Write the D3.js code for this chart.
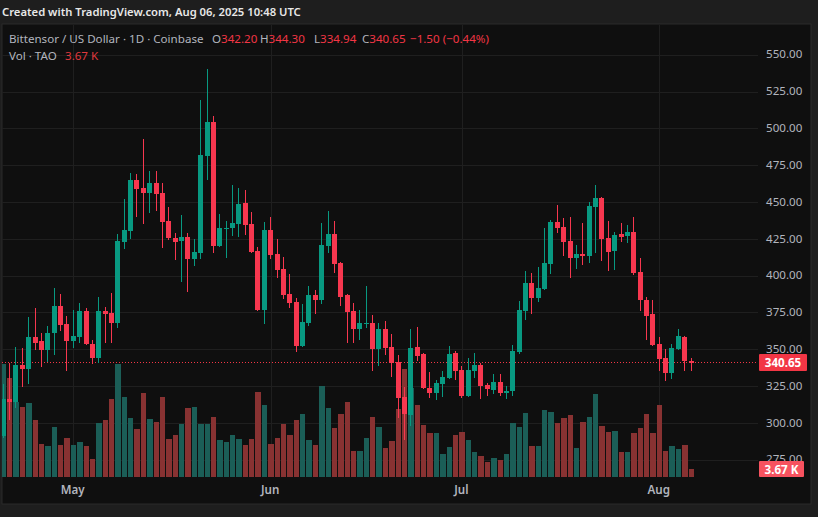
<!DOCTYPE html>
<html>
<head>
<meta charset="utf-8">
<script src="https://cdn.jsdelivr.net/npm/d3@7"></script>
<style>
html, body { margin: 0; padding: 0; background: #1e1e1e; }
svg { display: block; }
text { font-family: "Noto Sans", sans-serif; }
</style>
</head>
<body>
<svg id="area" width="818" height="517"></svg>
<script>
const open = [291.1,316.0,314.1,339.3,336.6,358.3,355.6,349.5,361.0,379.3,367.1,355.6,358.3,375.9,353.5,344.0,375.9,374.6,367.8,422.8,430.2,464.9,459.4,456.1,462.8,456.1,437.0,425.5,423.5,426.2,411.2,415.3,481.2,504.3,420.1,431.6,432.3,435.0,449.3,435.0,416.7,376.6,430.9,414.6,404.4,387.5,382.0,352.2,367.8,386.8,383.4,420.1,428.2,408.5,386.8,375.9,363.7,367.1,367.8,350.1,363.7,351.5,341.3,317.5,305.3,351.5,346.7,323.6,320.3,326.4,330.4,347.4,335.9,318.2,335.2,339.3,325.7,322.3,327.7,320.3,321.6,348.1,375.9,394.9,384.8,390.9,407.8,436.4,433.0,423.5,411.9,414.6,413.3,446.5,452.7,425.5,416.7,428.2,426.9,429.6,402.4,383.4,373.9,353.5,344.0,333.8,350.1,358.3,342.20];
const high = [326.4,340.8,351.5,350.8,371.9,378.0,361.0,365.7,391.5,387.5,372.5,376.6,381.4,378.0,356.2,385.4,378.6,388.2,428.2,452.0,469.6,469.0,492.7,471.0,471.0,462.8,446.5,428.9,441.1,428.9,424.8,519.2,540.2,508.3,441.8,437.0,461.5,459.4,458.1,443.2,419.4,436.4,439.8,424.8,412.6,401.1,384.8,380.7,392.9,390.2,435.7,443.8,437.0,409.2,387.5,381.4,376.6,392.9,373.2,367.8,369.1,360.3,346.1,324.3,363.7,365.1,347.4,334.5,329.1,335.2,352.2,348.8,338.6,344.0,347.4,340.6,327.0,333.2,333.2,325.0,352.9,382.7,403.1,401.7,405.8,432.3,437.7,447.9,439.1,439.8,420.7,435.7,449.9,461.5,453.4,437.0,429.6,435.7,434.3,439.8,411.9,385.4,383.4,358.3,350.1,353.5,363.7,359.0,344.30];
const low = [289.7,301.9,310.1,324.3,326.4,349.5,337.9,341.3,346.1,362.4,335.2,350.8,354.2,352.8,339.9,340.6,354.2,354.2,364.4,418.0,424.8,439.8,435.0,442.5,443.8,418.7,424.1,410.6,395.6,388.8,406.5,411.2,464.9,415.3,419.4,411.9,426.9,426.2,427.5,415.3,375.9,367.1,411.2,398.3,384.1,378.0,348.1,351.5,365.7,373.9,380.7,415.3,401.7,379.3,354.2,354.2,356.2,364.4,335.2,338.6,346.1,331.1,303.3,288.3,297.8,342.0,323.0,316.9,315.5,317.5,329.8,329.1,316.9,317.5,330.4,316.2,318.2,319.6,318.2,316.2,318.2,346.7,369.8,373.9,382.0,390.2,401.1,428.9,413.3,398.3,404.4,407.2,408.5,415.3,409.9,403.1,403.8,422.8,422.1,400.4,375.9,356.2,352.2,335.2,328.4,329.8,349.5,335.2,334.94];
const close = [316.0,314.1,339.3,336.6,358.3,354.2,349.5,361.0,379.3,366.4,355.6,359.0,375.9,353.5,344.0,375.9,373.9,367.8,423.5,430.9,464.9,458.8,456.1,462.8,455.4,436.4,425.5,422.8,426.2,411.2,416.0,481.9,504.3,420.1,432.3,432.3,435.7,448.6,434.3,416.0,376.6,430.9,414.0,403.8,386.8,381.4,352.2,368.5,386.8,383.4,420.7,428.2,407.8,385.4,375.3,363.7,367.8,367.8,350.1,363.7,350.8,340.6,316.9,306.0,350.8,345.4,323.6,320.3,327.0,331.1,346.7,335.2,318.2,335.9,339.3,325.0,323.0,327.7,320.3,321.6,348.8,376.6,394.9,384.8,391.5,408.5,436.4,432.3,422.8,411.9,414.6,413.3,447.2,452.7,424.8,416.0,427.5,426.2,429.6,401.7,383.4,372.5,352.9,343.3,333.8,350.8,359.0,342.0,340.65];
const volume = [51.9,45.4,34.4,32.1,34.0,26.2,15.1,14.2,23.0,14.7,17.9,14.7,16.1,14.2,8.3,24.8,26.2,35.8,51.9,36.7,27.1,22.0,38.6,26.6,25.2,36.7,17.4,19.3,24.3,31.7,32.1,24.3,24.3,27.5,17.0,16.1,19.3,17.4,14.7,17.4,39.0,33.0,15.1,17.9,24.3,19.3,26.2,28.9,17.0,14.7,41.8,31.7,22.5,28.9,34.4,11.9,11.9,17.9,27.5,23.0,13.3,16.5,31.2,49.6,40.9,33.0,23.9,20.2,20.2,10.6,13.8,19.3,20.7,17.0,11.5,9.6,6.9,8.7,7.8,10.6,24.8,23.0,29.4,14.2,14.2,30.8,29.8,24.8,27.1,28.5,13.3,25.2,27.5,38.1,23.4,20.7,21.1,11.5,11.5,20.2,22.5,28.9,20.2,33.0,11.9,14.2,12.9,14.7,3.67];

const priceTicks = [275,300,325,350,375,400,425,450,475,500,525,550];
const monthLabels = ["May","Jun","Jul","Aug"];
const monthIndex = [11,42,72,103];
const lastPrice = 340.65;

const upColor = "#089981";
const downColor = "#f7374f";
const upVol = "#1b5e57";
const downVol = "#883232";
const gridColor = "#1f1f1f";
const axisText = "#b2b5be";
const fontSize = 11.6;

const svg = d3.select("#area");
const n = open.length;

const x = d3.scaleLinear().domain([0, n - 1]).range([3.2, 691.1]);
const y = d3.scaleLinear().domain([275, 550]).range([459.7, 54.7]);
const volY = d3.scaleLinear().domain([0, d3.max(volume)]).range([477, 364]);
const isUp = i => close[i] >= open[i];

// panel background
svg.append("rect").attr("x", 2).attr("y", 24).attr("width", 809).attr("height", 480)
  .attr("fill", "#0f0f0f").attr("stroke", "#2a2a2a").attr("stroke-width", 1);

svg.append("defs").append("clipPath").attr("id", "plot")
  .append("rect").attr("x", 2).attr("y", 25).attr("width", 756).attr("height", 452);

const chart = svg.append("g").attr("clip-path", "url(#plot)");

// grid
const hGrid = chart.append("g").attr("transform", "translate(758,0)")
  .call(d3.axisLeft(y).tickValues(priceTicks).tickSize(756).tickFormat(""));
const vGrid = chart.append("g").attr("transform", "translate(0,477)")
  .call(d3.axisTop(x).tickValues(monthIndex).tickSize(453).tickFormat(""));
[hGrid, vGrid].forEach(g => {
  g.select(".domain").remove();
  g.selectAll("line").attr("stroke", gridColor).attr("shape-rendering", "crispEdges");
});

// volume
chart.append("g").selectAll("rect").data(volume).join("rect")
  .attr("x", (d, i) => Math.floor(x(i)) - 2)
  .attr("width", (d, i) => Math.floor(x(i + 1)) - Math.floor(x(i)) - 1)
  .attr("y", d => volY(d))
  .attr("height", d => 477 - volY(d))
  .attr("fill", (d, i) => isUp(i) ? upVol : downVol)
  .attr("shape-rendering", "crispEdges");

// last price line
chart.append("line").attr("x1", 2).attr("x2", 758)
  .attr("y1", Math.round(y(lastPrice)) - 0.5).attr("y2", Math.round(y(lastPrice)) - 0.5)
  .attr("stroke", "#f23645").attr("stroke-dasharray", "1,2")
  .attr("shape-rendering", "crispEdges");

// candles
const candles = chart.append("g").attr("shape-rendering", "crispEdges");
candles.selectAll("line").data(open).join("line")
  .attr("x1", (d, i) => Math.floor(x(i)) + 0.5)
  .attr("x2", (d, i) => Math.floor(x(i)) + 0.5)
  .attr("y1", (d, i) => y(high[i]))
  .attr("y2", (d, i) => y(low[i]))
  .attr("stroke", (d, i) => isUp(i) ? upColor : downColor);
candles.selectAll("rect").data(open).join("rect")
  .attr("x", (d, i) => Math.floor(x(i)) - 2)
  .attr("width", 5)
  .attr("y", (d, i) => y(Math.max(open[i], close[i])))
  .attr("height", (d, i) => Math.max(1, Math.abs(y(open[i]) - y(close[i]))))
  .attr("fill", (d, i) => isUp(i) ? upColor : downColor);

// axes
const priceAxis = svg.append("g").attr("transform", "translate(766,-0.5)")
  .call(d3.axisRight(y).tickValues(priceTicks).tickSize(0).tickPadding(0).tickFormat(d3.format(".2f")));
priceAxis.select(".domain").remove();
priceAxis.selectAll("text").attr("fill", axisText).attr("font-size", fontSize)
  .style("font-family", '"Noto Sans", sans-serif');

const timeAxis = svg.append("g").attr("transform", "translate(-1,477)")
  .call(d3.axisBottom(x).tickValues(monthIndex).tickSize(0).tickPadding(9)
    .tickFormat((d, i) => monthLabels[i]));
timeAxis.select(".domain").remove();
timeAxis.selectAll("text").attr("fill", axisText).attr("font-size", fontSize).attr("font-weight", 600)
  .style("font-family", '"Noto Sans", sans-serif');

// price tags
svg.append("rect").attr("x", 759).attr("y", 354).attr("width", 48).attr("height", 17)
  .attr("rx", 1).attr("fill", "#f23645");
svg.append("text").attr("x", 783).attr("y", 367).attr("text-anchor", "middle")
  .attr("fill", "#fff").attr("font-size", fontSize).attr("font-weight", 700).text(d3.format(".2f")(lastPrice));
svg.append("rect").attr("x", 759).attr("y", 461).attr("width", 45).attr("height", 16)
  .attr("rx", 1).attr("fill", "#f7525f");
svg.append("text").attr("x", 781.5).attr("y", 473.5).attr("text-anchor", "middle")
  .attr("fill", "#fff").attr("font-size", fontSize).attr("font-weight", 700).text("3.67 K");

// captions
svg.append("text").attr("x", 2).attr("y", 16).attr("fill", "#e8e8e8")
  .attr("font-size", 11.25).attr("font-weight", 600)
  .text("Created with TradingView.com, Aug 06, 2025 10:48 UTC");

svg.append("text").attr("x", 9).attr("y", 43).attr("fill", axisText).attr("font-size", fontSize)
  .text("Bittensor / US Dollar · 1D · Coinbase");

const legend = [["O", "342.20", 212], ["H", "344.30", 260], ["L", "334.94", 314], ["C", "340.65", 362]];
legend.forEach(d => {
  const t = svg.append("text").attr("x", d[2]).attr("y", 43).attr("font-size", fontSize);
  t.append("tspan").attr("fill", axisText).text(d[0]);
  t.append("tspan").attr("fill", "#f23645").text(d[1]);
});
svg.append("text").attr("x", 410).attr("y", 43).attr("fill", "#f23645").attr("font-size", fontSize)
  .text("−1.50 (−0.44%)");

svg.append("text").attr("x", 9).attr("y", 60).attr("fill", axisText).attr("font-size", fontSize)
  .text("Vol · TAO");
svg.append("text").attr("x", 65).attr("y", 60).attr("fill", "#e0393e").attr("font-size", fontSize)
  .text("3.67 K");
</script>
</body>
</html>
